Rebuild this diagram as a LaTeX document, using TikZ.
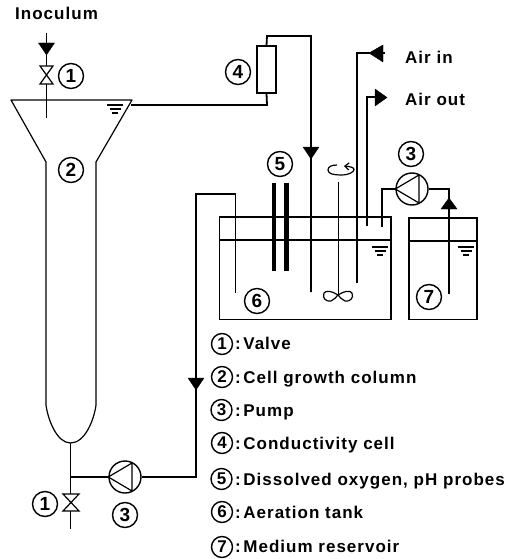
\documentclass[tikz,border=0pt]{standalone}
\usepackage{fontspec}
\setmainfont{Liberation Sans}[LetterSpace=6]
\newfontfamily\digitfont{Liberation Sans}
\usetikzlibrary{arrows.meta}
\tikzset{
  num/.style={circle,draw,line width=1.4pt,inner sep=0pt,minimum size=25pt,font=\digitfont\bfseries\fontsize{19}{19}\selectfont},
  lnum/.style={circle,draw,line width=1.4pt,inner sep=0pt,minimum size=21pt,font=\digitfont\bfseries\fontsize{17}{17}\selectfont},
  lab/.style={anchor=base west,inner sep=0pt,font=\bfseries\fontsize{17}{19}\selectfont},
  pumpc/.style={circle,draw,line width=1.4pt,inner sep=0pt,minimum size=32pt},
  pipe/.style={line width=1.8pt},
  wall/.style={line width=1.2pt},
  head/.style={fill=black,draw=black,line width=0.4pt},
  probe/.style={line width=4.5pt},
}
\newcommand{\levelmark}[2]{%
  \draw[line width=1.1pt] (#1-8,#2) -- (#1+8,#2) (#1-5.5,#2+4) -- (#1+5.5,#2+4) (#1-3,#2+8) -- (#1+3,#2+8);}
\begin{document}
\begin{tikzpicture}[x=1pt,y=-1pt]
\useasboundingbox (0,0) rectangle (520,559);
% --- top labels
\node[lab] (inoc) at (15,20) {Inoculum};
\node[lab] (airin) at (405,64) {Air in};
\node[lab] (airout) at (405,106) {Air out};
% --- coordinates
\coordinate (inocstart) at (46.5,33);
\coordinate (v1top) at (46.5,66);
\coordinate (v1bot) at (46.5,84);
\coordinate (inocend) at (46.5,118);
\coordinate (v2top) at (70.5,494);
\coordinate (v2bot) at (70.5,511);
\coordinate (colbot) at (70.5,443);
\coordinate (stemend) at (70.5,529);
\coordinate (tee) at (70.5,477);
% --- column
\draw[wall,line join=round] (46,220) -- (46,162) -- (11,100) -- (132,100) -- (96,162) -- (96,405)
  .. controls (94,420) and (85,443) .. (colbot) .. controls (57,443) and (48,420) .. (46,405) -- (46,220);
\levelmark{115}{105}
% --- valves
\draw[wall,line join=miter] (40,66) -- (53,66) -- (40,84) -- (53,84) -- cycle;
\draw[wall,line join=miter] (63,494) -- (79,494) -- (63,511) -- (79,511) -- cycle;
% --- inoculum line
\draw[pipe] (inocstart) -- (v1top) (v1bot) -- (inocend);
\draw[head] (38.5,43) -- (54.5,43) -- (46.5,55) -- cycle;
% --- pumps
\node[pumpc] (pumpA) at (125,477) {};
\node[pumpc] (pumpB) at (412,189) {};
\draw[line width=1.2pt,line join=round] (pumpA.west) -- (132,463) -- (132,491) -- cycle;
\draw[line width=1.2pt,line join=round] (pumpB.west) -- (419,175) -- (419,203) -- cycle;
% --- conductivity cell
\node[draw,line width=1.3pt,minimum width=19pt,minimum height=47pt,inner sep=0pt] (cell) at (266.5,69.5) {};
% --- lower pipes
\draw[pipe] (colbot) -- (v2top) (v2bot) -- (stemend);
\coordinate (riser) at (196,477);
\coordinate (risertop) at (196,194);
\coordinate (in6corner) at (235.5,194);
\coordinate (in6end) at (235.5,293);
\draw[pipe] (tee) -- (pumpA.west) (pumpA.east) -- (riser) -- (risertop) -- (in6corner) -- (in6end);
\draw[head] (188,378) -- (204,378) -- (196,390) -- cycle;
% --- conductivity line
\coordinate (funnelout) at (131,105);
\coordinate (c1) at (267,105);
\coordinate (c2) at (267,36);
\coordinate (c3) at (311,36);
\coordinate (c4) at (311,292);
\draw[pipe] (funnelout) -- (c1) -- (cell.south);
\draw[pipe] (cell.north) -- (c2) -- (c3) -- (c4);
\draw[head] (303,147) -- (319,147) -- (311,159) -- cycle;
% --- aeration tank
\draw[wall] (219.5,217) rectangle (391,319.5);
\draw[wall] (219.5,240) -- (391,240);
\levelmark{380}{247}
% --- reservoir
\draw[wall] (409,218) rectangle (477,319.5);
\draw[wall] (409,241) -- (477,241);
\levelmark{466}{247}
% --- probes
\coordinate (p1t) at (274,183); \coordinate (p1b) at (274,271);
\coordinate (p2t) at (286.5,183); \coordinate (p2b) at (286.5,271);
\draw[probe] (p1t) -- (p1b);
\draw[probe] (p2t) -- (p2b);
% --- stirrer
\coordinate (shaftt) at (338,182);
\coordinate (shaftb) at (338,295);
\draw[line width=1pt] (shaftt) -- (shaftb);
\draw[line width=1.2pt] (shaftb) .. controls (332,291) and (326,290) .. (324,293) .. controls (322,298) and (326,302) .. (331,301) .. controls (334,300) and (336,297) .. (shaftb)
  .. controls (344,291) and (350,290) .. (352,293) .. controls (354,298) and (350,302) .. (345,301) .. controls (342,300) and (340,297) .. (shaftb);
\draw[line width=1.2pt,-{Straight Barb[length=4pt,width=7pt]}] (337,165) .. controls (331,165) and (328,167) .. (328,170) .. controls (328,174) and (334,175) .. (341,175) .. controls (349,175) and (354,172) .. (354,169.5) .. controls (354,167.5) and (350,166.5) .. (344,166);
% --- air lines
\coordinate (aiA) at (357,283);
\coordinate (aiB) at (357,53);
\coordinate (aiC) at (385,53);
\draw[pipe] (aiA) -- (aiB) -- (aiC);
\draw[head] (369,53) -- (383,45) -- (383,62) -- cycle;
\coordinate (aoA) at (367,226);
\coordinate (aoB) at (367,97);
\coordinate (aoC) at (376,97);
\draw[pipe] (aoA) -- (aoB) -- (aoC);
\draw[head] (375,89) -- (387,97.5) -- (375,106) -- cycle;
% --- reservoir circuit
\coordinate (rA) at (382,227);
\coordinate (rB) at (382,189);
\coordinate (rC) at (449,189);
\coordinate (rD) at (449,294);
\draw[pipe] (rA) -- (rB) -- (pumpB.west);
\draw[pipe] (pumpB.east) -- (rC) -- (rD);
\draw[head] (441,209) -- (457,209) -- (449,198) -- cycle;
% --- number circles
\node[num] (n1a) at (71,76) {1};
\node[num] (n2) at (71,170) {2};
\node[num] (n4) at (238,72) {4};
\node[num] (n5) at (280,164) {5};
\node[num] (n3a) at (411,154) {3};
\node[num] (n6) at (257,301) {6};
\node[num] (n7) at (429,297) {7};
\node[num] (n1b) at (45,504) {1};
\node[num] (n3b) at (125,515) {3};
% --- legend
\node[lnum] (l1) at (222,344) {1};
\node[lnum] (l2) at (222,377) {2};
\node[lnum] (l3) at (221.5,410) {3};
\node[lnum] (l4) at (222,443) {4};
\node[lnum] (l5) at (221.5,479) {5};
\node[lnum] (l6) at (222,512) {6};
\node[lnum] (l7) at (222,547) {7};
\node[lab] at (235,349) {:\hspace{2.5pt}Valve};
\node[lab] at (235,383) {:\hspace{2.5pt}Cell growth column};
\node[lab] at (235,416) {:\hspace{2.5pt}Pump};
\node[lab] at (235,449) {:\hspace{2.5pt}Conductivity cell};
\node[lab] at (235,485) {:\hspace{2.5pt}Dissolved oxygen, pH probes};
\node[lab] at (235,518) {:\hspace{2.5pt}Aeration tank};
\node[lab] at (235,552) {:\hspace{2.5pt}Medium reservoir};
\end{tikzpicture}
\end{document}
